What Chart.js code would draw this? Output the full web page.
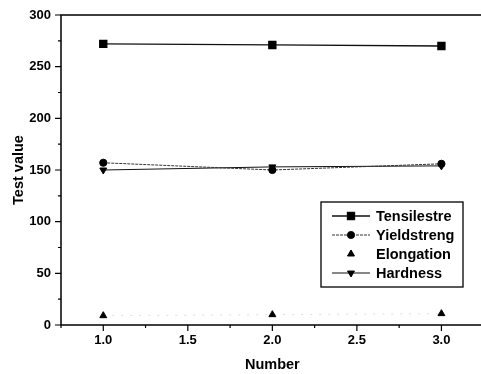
<!DOCTYPE html>
<html>
<head>
<meta charset="utf-8">
<script src="https://cdn.jsdelivr.net/npm/chart.js@4"></script>
<style>
  html, body { margin: 0; padding: 0; background: #fff; overflow: hidden; }
  #wrap { position: relative; width: 490px; height: 374px; }
</style>
</head>
<body>
<div id="wrap"><canvas id="chart"></canvas></div>
<script>
// data
const numbers = [1.0, 2.0, 3.0];
const tensile = [272, 271, 270];
const yieldStr = [157, 150, 156];
const elongation = [9, 10, 11];
const hardness = [150, 153, 154];
const seriesNames = ["Tensilestre", "Yieldstreng", "Elongation", "Hardness"];

const yTicks = [0, 50, 100, 150, 200, 250, 300];
const xTicks = [1.0, 1.5, 2.0, 2.5, 3.0];

const FONT = "'Liberation Sans', Arial, sans-serif";

function pts(vals) {
  return numbers.map((n, i) => ({ x: n, y: vals[i] }));
}

// frame, minor ticks and the inset legend
const framePlugin = {
  id: "frame",
  afterDraw(chart) {
    const { ctx, chartArea: a, scales } = chart;
    ctx.save();
    ctx.strokeStyle = "#000";
    ctx.lineWidth = 1.5;
    ctx.strokeRect(a.left, a.top, a.right - a.left, a.bottom - a.top);

    // ticks (outward)
    ctx.lineWidth = 1.2;
    ctx.beginPath();
    for (let v = 0; v <= 300; v += 25) {
      const y = scales.y.getPixelForValue(v);
      const len = v % 50 === 0 ? 6 : 3;
      ctx.moveTo(a.left - len, y);
      ctx.lineTo(a.left, y);
    }
    for (let v = 0.75; v <= 3.25; v += 0.25) {
      const x = scales.x.getPixelForValue(v);
      const len = Math.abs(v * 2 - Math.round(v * 2)) < 1e-6 ? 6 : 3;
      ctx.moveTo(x, a.bottom);
      ctx.lineTo(x, a.bottom + len);
    }
    ctx.stroke();

    // legend box
    const bx = 321, by = 202, bw = 142, bh = 85;
    ctx.lineWidth = 1.3;
    ctx.strokeRect(bx, by, bw, bh);
    ctx.font = "bold 14.5px " + FONT;
    ctx.textBaseline = "middle";
    ctx.fillStyle = "#000";
    chart.data.datasets.forEach((ds, i) => {
      const y = by + 14 + i * 19;
      if (ds.legendLine !== false) {
        ctx.strokeStyle = ds.borderColor;
        ctx.lineWidth = ds.borderWidth;
        ctx.setLineDash(ds.borderDash || []);
        ctx.beginPath();
        ctx.moveTo(bx + 11, y);
        ctx.lineTo(bx + 49, y);
        ctx.stroke();
        ctx.setLineDash([]);
      }
      Chart.helpers.drawPoint(ctx, {
        pointStyle: ds.pointStyle,
        rotation: ds.pointRotation || 0,
        radius: ds.pointRadius,
        borderWidth: 1
      }, bx + 30, y);
      ctx.fillStyle = "#000";
      ctx.strokeStyle = "#000";
      ctx.fill();
      ctx.fillText(ds.label, bx + 55, y + 1);
    });
    ctx.restore();
  }
};

new Chart(document.getElementById("chart"), {
  type: "line",
  data: {
    datasets: [
      {
        label: seriesNames[0],
        data: pts(tensile),
        borderColor: "#111",
        borderWidth: 1.3,
        pointStyle: "rect",
        pointRadius: 5,
        pointBackgroundColor: "#000",
        pointBorderColor: "#000"
      },
      {
        label: seriesNames[1],
        data: pts(yieldStr),
        borderColor: "#333",
        borderWidth: 1,
        borderDash: [3, 1],
        pointStyle: "circle",
        pointRadius: 3.6,
        pointBackgroundColor: "#000",
        pointBorderColor: "#000"
      },
      {
        label: seriesNames[2],
        data: pts(elongation),
        borderColor: "#dcdcdc",
        borderWidth: 1,
        borderDash: [2, 7],
        legendLine: false,
        pointStyle: "triangle",
        pointRadius: 4,
        pointBackgroundColor: "#000",
        pointBorderColor: "#000"
      },
      {
        label: seriesNames[3],
        data: pts(hardness),
        borderColor: "#111",
        borderWidth: 1,
        pointStyle: "triangle",
        pointRotation: 180,
        pointRadius: 4,
        pointBackgroundColor: "#000",
        pointBorderColor: "#000"
      }
    ]
  },
  options: {
    responsive: true,
    maintainAspectRatio: false,
    animation: false,
    layout: { padding: { top: 15, right: 5, left: 0, bottom: 0 } },
    plugins: {
      legend: { display: false },
      tooltip: { enabled: false }
    },
    elements: { line: { tension: 0 } },
    scales: {
      x: {
        type: "linear",
        min: 0.75,
        max: 3.25,
        afterBuildTicks(scale) {
          scale.ticks = xTicks.map((v) => ({ value: v }));
        },
        afterFit(scale) { scale.height = 49; },
        grid: { display: false, drawTicks: true, tickLength: 6 },
        border: { display: false },
        ticks: {
          color: "#000",
          padding: 2,
          font: { family: FONT, size: 13, weight: "bold" },
          maxRotation: 0,
          callback: (v) => v.toFixed(1)
        },
        title: {
          display: true,
          text: "Number",
          color: "#000",
          padding: { top: 2, bottom: 0 },
          font: { family: FONT, size: 14.5, weight: "bold" }
        }
      },
      y: {
        type: "linear",
        min: 0,
        max: 300,
        afterBuildTicks(scale) {
          scale.ticks = yTicks.map((v) => ({ value: v }));
        },
        afterFit(scale) { scale.width = 61; },
        grid: { display: false, drawTicks: true, tickLength: 6 },
        border: { display: false },
        ticks: {
          color: "#000",
          padding: 4,
          font: { family: FONT, size: 13, weight: "bold" }
        },
        title: {
          display: true,
          text: "Test value",
          color: "#000",
          padding: { top: 10, bottom: 0 },
          font: { family: FONT, size: 14.5, weight: "bold" }
        }
      }
    }
  },
  plugins: [framePlugin]
});
</script>
</body>
</html>
